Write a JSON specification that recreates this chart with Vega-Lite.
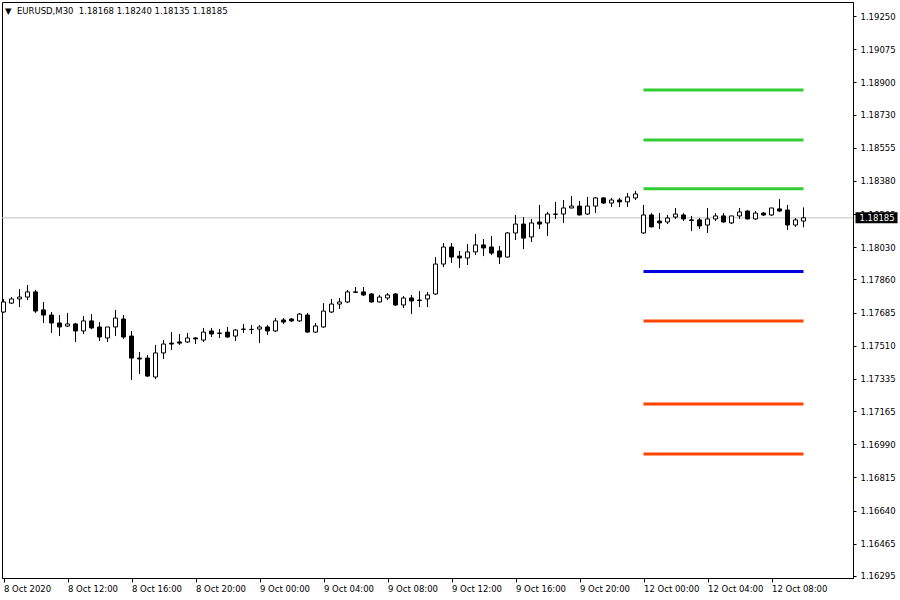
{
  "$schema": "https://vega.github.io/schema/vega-lite/v6.json",
  "width": 851,
  "height": 576,
  "autosize": {"type": "none"},
  "padding": {"left": 2, "top": 2, "right": 47, "bottom": 22},
  "background": "white",
  "config": {
    "view": {"stroke": "black", "strokeWidth": 1},
    "font": "DejaVu Sans",
    "axis": {
      "labelOverlap": false,
      "labelFlush": false,
      "labelBound": false,
      "labelSeparation": 0,
      "grid": false,
      "title": null,
      "labelFont": "DejaVu Sans",
      "labelFontSize": 8.5,
      "labelColor": "black",
      "tickColor": "black",
      "domainColor": "black"
    },
    "axisX": {"labelAlign": "left", "labelBaseline": "top", "labelPadding": 2, "labelDx": -0.5, "tickSize": 4},
    "axisY": {"labelBaseline": "middle", "labelPadding": 4, "tickSize": 3}
  },
  "title": {
    "text": "▼\u00a0\u00a0EURUSD,M30\u00a0\u00a01.18168 1.18240 1.18135 1.18185",
    "anchor": "start",
    "frame": "group",
    "orient": "top",
    "offset": -8,
    "dy": 9,
    "baseline": "middle",
    "dx": 3,
    "font": "DejaVu Sans",
    "fontSize": 8.5,
    "fontWeight": "normal",
    "color": "black"
  },
  "datasets": {
    "candles": [
      {"t":0,"o":1.17688,"h":1.17757,"l":1.17683,"c":1.17741},
      {"t":1,"o":1.17735,"h":1.17767,"l":1.17730,"c":1.17757},
      {"t":2,"o":1.17757,"h":1.17809,"l":1.17714,"c":1.17767},
      {"t":3,"o":1.17767,"h":1.17830,"l":1.17751,"c":1.17794},
      {"t":4,"o":1.17794,"h":1.17804,"l":1.17683,"c":1.17693},
      {"t":5,"o":1.17699,"h":1.17741,"l":1.17630,"c":1.17672},
      {"t":6,"o":1.17672,"h":1.17688,"l":1.17577,"c":1.17630},
      {"t":7,"o":1.17630,"h":1.17672,"l":1.17561,"c":1.17609},
      {"t":8,"o":1.17614,"h":1.17683,"l":1.17609,"c":1.17625},
      {"t":9,"o":1.17625,"h":1.17630,"l":1.17530,"c":1.17588},
      {"t":10,"o":1.17588,"h":1.17667,"l":1.17572,"c":1.17641},
      {"t":11,"o":1.17641,"h":1.17677,"l":1.17598,"c":1.17604},
      {"t":12,"o":1.17609,"h":1.17635,"l":1.17535,"c":1.17556},
      {"t":13,"o":1.17551,"h":1.17609,"l":1.17530,"c":1.17609},
      {"t":14,"o":1.17609,"h":1.17699,"l":1.17561,"c":1.17656},
      {"t":15,"o":1.17651,"h":1.17672,"l":1.17546,"c":1.17556},
      {"t":16,"o":1.17561,"h":1.17588,"l":1.17329,"c":1.17445},
      {"t":17,"o":1.17445,"h":1.17477,"l":1.17361,"c":1.17440},
      {"t":18,"o":1.17445,"h":1.17461,"l":1.17345,"c":1.17350},
      {"t":19,"o":1.17345,"h":1.17514,"l":1.17334,"c":1.17472},
      {"t":20,"o":1.17472,"h":1.17540,"l":1.17440,"c":1.17519},
      {"t":21,"o":1.17524,"h":1.17582,"l":1.17487,"c":1.17519},
      {"t":22,"o":1.17530,"h":1.17572,"l":1.17514,"c":1.17524},
      {"t":23,"o":1.17530,"h":1.17577,"l":1.17524,"c":1.17551},
      {"t":24,"o":1.17551,"h":1.17556,"l":1.17519,"c":1.17546},
      {"t":25,"o":1.17540,"h":1.17604,"l":1.17530,"c":1.17582},
      {"t":26,"o":1.17588,"h":1.17604,"l":1.17556,"c":1.17572},
      {"t":27,"o":1.17577,"h":1.17598,"l":1.17551,"c":1.17575},
      {"t":28,"o":1.17582,"h":1.17609,"l":1.17553,"c":1.17556},
      {"t":29,"o":1.17561,"h":1.17598,"l":1.17535,"c":1.17593},
      {"t":30,"o":1.17596,"h":1.17625,"l":1.17577,"c":1.17598},
      {"t":31,"o":1.17596,"h":1.17619,"l":1.17572,"c":1.17596},
      {"t":32,"o":1.17598,"h":1.17619,"l":1.17524,"c":1.17609},
      {"t":33,"o":1.17609,"h":1.17619,"l":1.17567,"c":1.17588},
      {"t":34,"o":1.17588,"h":1.17656,"l":1.17582,"c":1.17641},
      {"t":35,"o":1.17646,"h":1.17656,"l":1.17625,"c":1.17635},
      {"t":36,"o":1.17651,"h":1.17656,"l":1.17635,"c":1.17641},
      {"t":37,"o":1.17641,"h":1.17683,"l":1.17635,"c":1.17677},
      {"t":38,"o":1.17672,"h":1.17683,"l":1.17580,"c":1.17582},
      {"t":39,"o":1.17582,"h":1.17630,"l":1.17577,"c":1.17614},
      {"t":40,"o":1.17609,"h":1.17735,"l":1.17604,"c":1.17693},
      {"t":41,"o":1.17688,"h":1.17757,"l":1.17683,"c":1.17730},
      {"t":42,"o":1.17730,"h":1.17762,"l":1.17704,"c":1.17741},
      {"t":43,"o":1.17741,"h":1.17804,"l":1.17735,"c":1.17794},
      {"t":44,"o":1.17794,"h":1.17820,"l":1.17788,"c":1.17792},
      {"t":45,"o":1.17794,"h":1.17820,"l":1.17772,"c":1.17778},
      {"t":46,"o":1.17783,"h":1.17788,"l":1.17738,"c":1.17741},
      {"t":47,"o":1.17741,"h":1.17778,"l":1.17738,"c":1.17767},
      {"t":48,"o":1.17762,"h":1.17788,"l":1.17751,"c":1.17778},
      {"t":49,"o":1.17783,"h":1.17788,"l":1.17720,"c":1.17725},
      {"t":50,"o":1.17725,"h":1.17772,"l":1.17709,"c":1.17762},
      {"t":51,"o":1.17762,"h":1.17778,"l":1.17677,"c":1.17746},
      {"t":52,"o":1.17751,"h":1.17799,"l":1.17714,"c":1.17749},
      {"t":53,"o":1.17757,"h":1.17794,"l":1.17714,"c":1.17778},
      {"t":54,"o":1.17783,"h":1.17978,"l":1.17778,"c":1.17941},
      {"t":55,"o":1.17941,"h":1.18052,"l":1.17925,"c":1.18031},
      {"t":56,"o":1.18031,"h":1.18052,"l":1.17947,"c":1.17978},
      {"t":57,"o":1.17983,"h":1.18010,"l":1.17920,"c":1.17973},
      {"t":58,"o":1.17973,"h":1.18047,"l":1.17936,"c":1.18005},
      {"t":59,"o":1.18005,"h":1.18100,"l":1.17989,"c":1.18042},
      {"t":60,"o":1.18042,"h":1.18073,"l":1.17983,"c":1.18026},
      {"t":61,"o":1.18031,"h":1.18089,"l":1.17989,"c":1.17999},
      {"t":62,"o":1.18010,"h":1.18036,"l":1.17941,"c":1.17978},
      {"t":63,"o":1.17978,"h":1.18110,"l":1.17975,"c":1.18105},
      {"t":64,"o":1.18105,"h":1.18200,"l":1.18068,"c":1.18152},
      {"t":65,"o":1.18152,"h":1.18189,"l":1.18020,"c":1.18078},
      {"t":66,"o":1.18084,"h":1.18179,"l":1.18057,"c":1.18158},
      {"t":67,"o":1.18163,"h":1.18253,"l":1.18126,"c":1.18152},
      {"t":68,"o":1.18158,"h":1.18216,"l":1.18089,"c":1.18205},
      {"t":69,"o":1.18203,"h":1.18269,"l":1.18179,"c":1.18205},
      {"t":70,"o":1.18205,"h":1.18279,"l":1.18158,"c":1.18237},
      {"t":71,"o":1.18237,"h":1.18300,"l":1.18235,"c":1.18247},
      {"t":72,"o":1.18247,"h":1.18274,"l":1.18198,"c":1.18200},
      {"t":73,"o":1.18205,"h":1.18295,"l":1.18200,"c":1.18247},
      {"t":74,"o":1.18247,"h":1.18295,"l":1.18210,"c":1.18290},
      {"t":75,"o":1.18290,"h":1.18295,"l":1.18258,"c":1.18263},
      {"t":76,"o":1.18263,"h":1.18290,"l":1.18242,"c":1.18279},
      {"t":77,"o":1.18279,"h":1.18290,"l":1.18242,"c":1.18269},
      {"t":78,"o":1.18269,"h":1.18316,"l":1.18242,"c":1.18295},
      {"t":79,"o":1.18290,"h":1.18327,"l":1.18279,"c":1.18311},
      {"t":80,"o":1.18105,"h":1.18253,"l":1.18100,"c":1.18200},
      {"t":81,"o":1.18200,"h":1.18210,"l":1.18135,"c":1.18137},
      {"t":82,"o":1.18168,"h":1.18210,"l":1.18126,"c":1.18158},
      {"t":83,"o":1.18163,"h":1.18200,"l":1.18152,"c":1.18184},
      {"t":84,"o":1.18189,"h":1.18237,"l":1.18179,"c":1.18205},
      {"t":85,"o":1.18200,"h":1.18210,"l":1.18168,"c":1.18179},
      {"t":86,"o":1.18174,"h":1.18195,"l":1.18115,"c":1.18171},
      {"t":87,"o":1.18174,"h":1.18184,"l":1.18126,"c":1.18142},
      {"t":88,"o":1.18147,"h":1.18237,"l":1.18105,"c":1.18179},
      {"t":89,"o":1.18179,"h":1.18210,"l":1.18168,"c":1.18195},
      {"t":90,"o":1.18195,"h":1.18210,"l":1.18160,"c":1.18163},
      {"t":91,"o":1.18158,"h":1.18195,"l":1.18152,"c":1.18195},
      {"t":92,"o":1.18195,"h":1.18237,"l":1.18179,"c":1.18216},
      {"t":93,"o":1.18221,"h":1.18224,"l":1.18177,"c":1.18179},
      {"t":94,"o":1.18179,"h":1.18221,"l":1.18174,"c":1.18210},
      {"t":95,"o":1.18210,"h":1.18216,"l":1.18195,"c":1.18200},
      {"t":96,"o":1.18200,"h":1.18237,"l":1.18195,"c":1.18237},
      {"t":97,"o":1.18232,"h":1.18284,"l":1.18216,"c":1.18221},
      {"t":98,"o":1.18226,"h":1.18253,"l":1.18121,"c":1.18147},
      {"t":99,"o":1.18147,"h":1.18184,"l":1.18137,"c":1.18174},
      {"t":100,"o":1.18168,"h":1.18240,"l":1.18135,"c":1.18185}
    ],
    "levels": [
      {"level":"R3","kind":"resistance","price":1.18860,"from":80,"to":100},
      {"level":"R2","kind":"resistance","price":1.18596,"from":80,"to":100},
      {"level":"R1","kind":"resistance","price":1.18339,"from":80,"to":100},
      {"level":"P","kind":"pivot","price":1.17902,"from":80,"to":100},
      {"level":"S1","kind":"support","price":1.17641,"from":80,"to":100},
      {"level":"S2","kind":"support","price":1.17203,"from":80,"to":100},
      {"level":"S3","kind":"support","price":1.16939,"from":80,"to":100}
    ],
    "last": [{"price":1.18185}]
  },
  "encoding": {
    "x": {"type": "quantitative",
          "scale": {"domain": [-0.1875, 106.1875], "nice": false, "zero": false, "padding": 0},
          "axis": {
            "values": [0, 8, 16, 24, 32, 40, 48, 56, 64, 72, 80, 88, 96],
            "labelExpr": "['8 Oct 2020','8 Oct 12:00','8 Oct 16:00','8 Oct 20:00','9 Oct 00:00','9 Oct 04:00','9 Oct 08:00','9 Oct 12:00','9 Oct 16:00','9 Oct 20:00','12 Oct 00:00','12 Oct 04:00','12 Oct 08:00'][round(datum.value/8)]",
            "labelOverlap": false
          }},
    "y": {"type": "quantitative",
          "scale": {"domain": [1.162843, 1.193239], "nice": false, "zero": false, "padding": 0},
          "axis": {
            "orient": "right",
            "values": [1.1925, 1.19075, 1.189, 1.1873, 1.18555, 1.1838, 1.18205, 1.1803, 1.1786, 1.17685, 1.1751, 1.17335, 1.17165, 1.1699, 1.16815, 1.1664, 1.16465, 1.16295],
            "labelExpr": "format(datum.value, '.5f')",
            "labelOverlap": false
          }}
  },
  "layer": [
    {
      "data": {"name": "last"},
      "mark": {"type": "rule", "color": "#c0c0c0", "strokeWidth": 1},
      "encoding": {
        "x": null,
        "y": {"field": "price"}
      }
    },
    {
      "data": {"name": "levels"},
      "mark": {"type": "rule", "strokeWidth": 3, "strokeCap": "butt"},
      "encoding": {
        "x": {"field": "from"},
        "x2": {"field": "to"},
        "y": {"field": "price"},
        "color": {"field": "kind", "type": "nominal", "legend": null,
                  "scale": {"domain": ["resistance", "pivot", "support"], "range": ["#32CD32", "#0000E0", "#FF4500"]}}
      }
    },
    {
      "data": {"name": "candles"},
      "mark": {"type": "rule", "color": "black", "strokeWidth": 1},
      "encoding": {
        "x": {"field": "t"},
        "y": {"field": "l"},
        "y2": {"field": "h"}
      }
    },
    {
      "data": {"name": "candles"},
      "mark": {"type": "bar", "width": 4, "stroke": "black", "strokeWidth": 1},
      "encoding": {
        "x": {"field": "t"},
        "y": {"field": "o"},
        "y2": {"field": "c"},
        "fill": {"condition": {"test": "datum.c < datum.o", "value": "black"}, "value": "white"}
      }
    },
    {
      "data": {"name": "last"},
      "mark": {"type": "rect", "color": "black"},
      "encoding": {
        "x": {"datum": 106.5},
        "x2": {"datum": 111.75},
        "y": {"datum": 1.18214},
        "y2": {"datum": 1.18156}
      }
    },
    {
      "data": {"name": "last"},
      "mark": {"type": "text", "color": "white", "align": "left", "baseline": "middle", "font": "DejaVu Sans", "fontSize": 8.5, "dx": 4},
      "encoding": {
        "x": {"datum": 106.5},
        "y": {"field": "price"},
        "text": {"field": "price", "type": "quantitative", "format": ".5f"}
      }
    }
  ]
}
